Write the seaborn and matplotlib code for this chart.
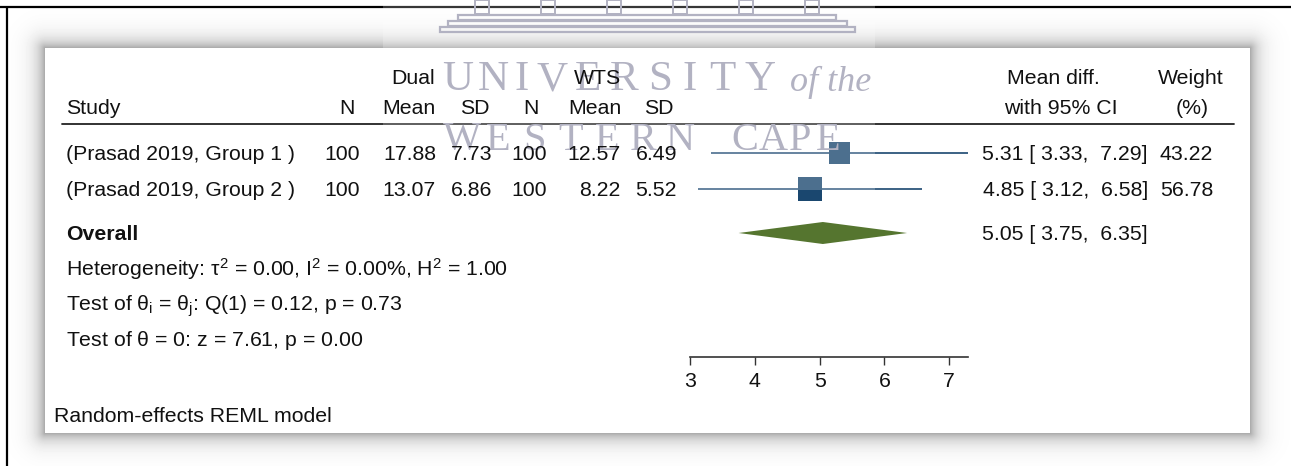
import numpy as np
import pandas as pd
import matplotlib
matplotlib.use("Agg")
import matplotlib.pyplot as plt
from matplotlib.patches import Rectangle
import seaborn as sns

# ---- study data -------------------------------------------------------
studies = ["(Prasad 2019, Group 1 )", "(Prasad 2019, Group 2 )"]
dual_n = [100, 100]
dual_mean = [17.88, 13.07]
dual_sd = [7.73, 6.86]
wts_n = [100, 100]
wts_mean = [12.57, 8.22]
wts_sd = [6.49, 5.52]
md = [5.31, 4.85]
md_lo = [3.33, 3.12]
md_hi = [7.29, 6.58]
weight = [43.22, 56.78]

overall_md, overall_lo, overall_hi = 5.05, 3.75, 6.35
tau2, i2, h2 = 0.00, 0.00, 1.00
q_stat, q_df, q_p = 0.12, 1, 0.73
z_stat, z_p = 7.61, 0.00
x_ticks = [3, 4, 5, 6, 7]

# ---- style ------------------------------------------------------------
sns.set_theme(style="white")
plt.rcParams["font.family"] = ["Liberation Sans", "DejaVu Sans"]
plt.rcParams["mathtext.fontset"] = "custom"
plt.rcParams["mathtext.rm"] = "Liberation Sans"
plt.rcParams["mathtext.it"] = "Liberation Sans"
plt.rcParams["mathtext.bf"] = "Liberation Sans:bold"

W, H = 1291, 466
FS = 15.3
TXT = "#111111"
NAVY = "#1a476f"
GREEN = "#55752f"

fig = plt.figure(figsize=(W / 100, H / 100), dpi=100)
fig.patch.set_facecolor("white")

# background layer in pixel coordinates: frame, drop shadow, panel
bg = fig.add_axes([0, 0, 1, 1], zorder=0)
bg.axis("off")

px0, px1, py0, py1 = 45, 1250, 48, 433
yy, xx = np.mgrid[0:H, 0:W] + 0.5
dx = np.maximum(np.maximum(px0 - xx, xx - px1), 0)
dy = np.maximum(np.maximum(py0 - yy, yy - py1), 0)
dist = np.hypot(dx, dy)
shade = 1 - 0.34 * np.exp(-dist / 9.0)
shade[(dist == 0)] = 1.0
bg.imshow(shade, extent=(0, W, H, 0), cmap="gray", vmin=0, vmax=1,
          interpolation="bilinear", aspect="auto", zorder=0)
bg.plot([0, W], [7, 7], color="black", lw=1.6, zorder=2, solid_capstyle="butt")
bg.plot([7, 7], [7, H], color="black", lw=1.6, zorder=2, solid_capstyle="butt")
# header rule
bg.plot([62, 1234], [124, 124], color="#222222", lw=1.3, zorder=2)
bg.set_xlim(0, W)
bg.set_ylim(H, 0)

# ---- forest panel -----------------------------------------------------
x_lo = min(x_ticks)
x_hi = max(md_hi)
ax_left_px, ax_right_px, axis_y_px = 690, 968, 357
fa = fig.add_axes([ax_left_px / W, (H - axis_y_px) / H,
                   (ax_right_px - ax_left_px) / W, axis_y_px / H], zorder=1)
fa.patch.set_alpha(0)
fa.set_xlim(x_lo, x_hi)
fa.set_ylim(axis_y_px, 0)

row_y = [153, 189]
overall_y = 233

df = pd.DataFrame({"md": md, "lo": md_lo, "hi": md_hi, "w": weight, "y": row_y})
fa.hlines(df["y"], df["lo"], df["hi"], color=NAVY, lw=1.2, zorder=2)
# marker area proportional to study weight
k = 5.3
sns.scatterplot(data=df, x="md", y="y", size="w",
                sizes=(k * df["w"].min(), k * df["w"].max()),
                marker="s", color=NAVY, linewidth=0, legend=False,
                ax=fa, zorder=3, clip_on=False)
half_h = 11
fa.fill([overall_lo, overall_md, overall_hi, overall_md],
        [overall_y, overall_y - half_h, overall_y, overall_y + half_h],
        color=GREEN, lw=0, zorder=3)

for s in ["top", "left", "right"]:
    fa.spines[s].set_visible(False)
fa.spines["bottom"].set_color("#333333")
fa.spines["bottom"].set_linewidth(1.2)
fa.set_xticks(x_ticks)
fa.set_xticklabels([str(t) for t in x_ticks])
fa.tick_params(axis="x", direction="out", length=6, width=1, color="#333333",
               labelsize=FS, labelcolor=TXT, pad=5, bottom=True)
fa.set_yticks([])
fa.set_xlabel("")
fa.set_ylabel("")

# ---- watermark layer --------------------------------------------------
wm = fig.add_axes([0, 0, 1, 1], zorder=2)
wm.axis("off")
wm.add_patch(Rectangle((383, 0), 875 - 383, 190, facecolor="white",
                       alpha=0.22, lw=0))
WMC = "#b2b2c2"
# building outline
for (x0, x1, y0) in [(440, 855, 27), (448, 847, 21), (458, 836, 15)]:
    wm.add_patch(Rectangle((x0, y0), x1 - x0, 5, facecolor="none",
                           edgecolor=WMC, lw=1.6))
for cx in np.linspace(482, 812, 6):
    wm.add_patch(Rectangle((cx - 7, 0), 14, 14, facecolor="none",
                           edgecolor=WMC, lw=1.4))
for ch, cx in zip("UNIVERSITY", [458, 493, 522, 552, 588, 624, 660, 690, 722, 760]):
    wm.text(cx, 80, ch, family=["Liberation Serif"], fontsize=31,
            color=WMC, ha="center", va="center")
wm.text(790, 82, "of the", family=["Liberation Serif"], style="italic",
        fontsize=26, color=WMC, ha="left", va="center")
for ch, cx in zip("WESTERN", np.linspace(462, 680, 7)):
    wm.text(cx, 140, ch, family=["Liberation Serif"], fontsize=29,
            color=WMC, ha="center", va="center")
for ch, cx in zip("CAPE", np.linspace(745, 828, 4)):
    wm.text(cx, 140, ch, family=["Liberation Serif"], fontsize=29,
            color=WMC, ha="center", va="center")
wm.set_xlim(0, W)
wm.set_ylim(H, 0)

# ---- table text -------------------------------------------------------
tx = fig.add_axes([0, 0, 1, 1], zorder=3)
tx.set_xlim(0, W)
tx.set_ylim(H, 0)
tx.axis("off")


def put(x, y, s, ha="left", **kw):
    tx.text(x, y + 7.5, s, ha=ha, va="baseline", fontsize=FS, color=TXT, **kw)


# column headers
put(413, 77, "Dual", ha="center")
put(597, 77, "WTS", ha="center")
put(1053, 77, "Mean diff.", ha="center")
put(1191, 77, "Weight", ha="center")
put(66, 106, "Study")
hdr_cols = [("N", 355), ("Mean", 436), ("SD", 490), ("N", 539), ("Mean", 621), ("SD", 674)]
for label, xr in hdr_cols:
    put(xr, 106, label, ha="right")
put(1061, 106, "with 95% CI", ha="center")
put(1192, 106, "(%)", ha="center")

# study rows
val_cols = [(dual_n, 360, "{:d}"), (dual_mean, 436, "{:.2f}"), (dual_sd, 492, "{:.2f}"),
            (wts_n, 547, "{:d}"), (wts_mean, 621, "{:.2f}"), (wts_sd, 677, "{:.2f}")]
for i, name in enumerate(studies):
    y = row_y[i]
    put(66, y, name)
    for vals, xr, fmt in val_cols:
        put(xr, y, fmt.format(vals[i]), ha="right")
    put(1148, y, f"{md[i]:.2f} [ {md_lo[i]:.2f},  {md_hi[i]:.2f}]", ha="right")
    put(1213, y, f"{weight[i]:.2f}", ha="right")

put(66, overall_y, "Overall", fontweight="bold")
put(1148, overall_y, f"{overall_md:.2f} [ {overall_lo:.2f},  {overall_hi:.2f}]", ha="right")

put(66, 268, rf"Heterogeneity: $\tau^2$ = {tau2:.2f}, I$^2$ = {i2:.2f}%, H$^2$ = {h2:.2f}")
put(66, 303, rf"Test of $\theta_i$ = $\theta_j$: Q({q_df}) = {q_stat:.2f}, p = {q_p:.2f}")
put(66, 338, rf"Test of $\theta$ = 0: z = {z_stat:.2f}, p = {z_p:.2f}")
put(54, 414, "Random-effects REML model")

fig.savefig("out.png", dpi=100)
